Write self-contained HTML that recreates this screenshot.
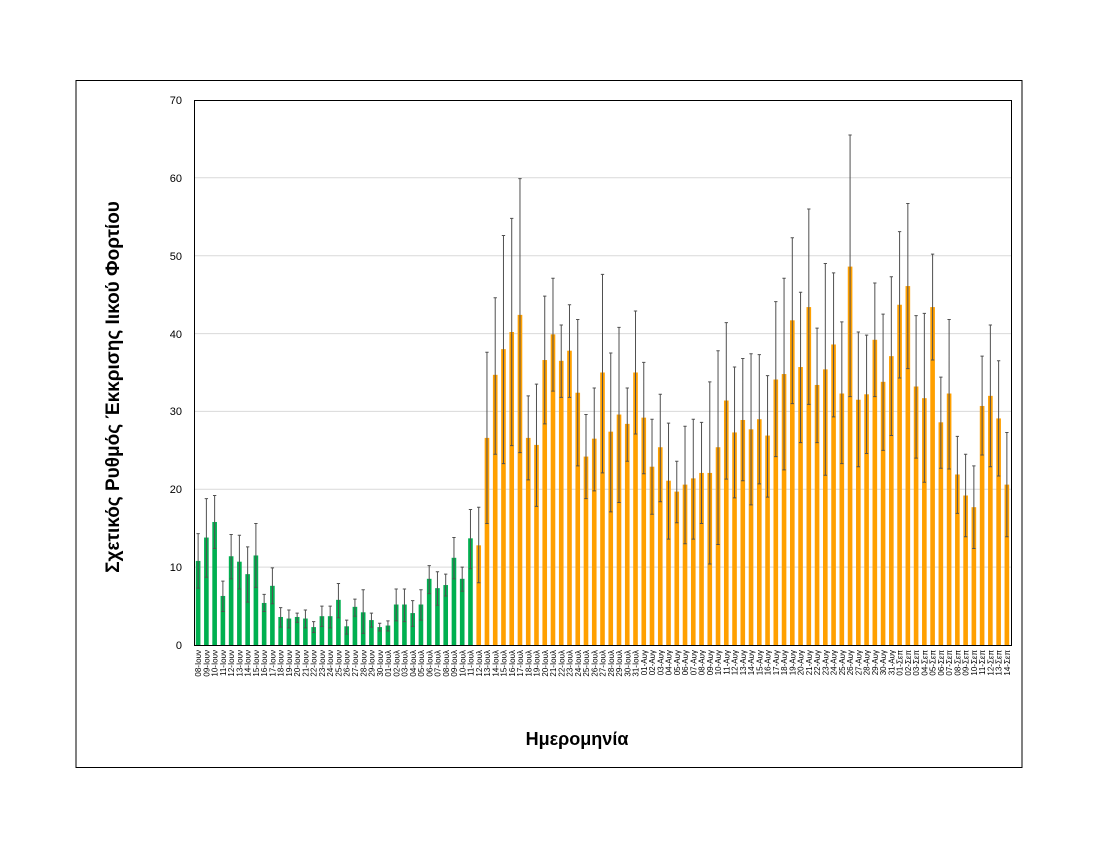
<!DOCTYPE html>
<html><head><meta charset="utf-8"><style>body{margin:0;background:#fff}svg{display:block;font-family:"Liberation Sans","DejaVu Sans",sans-serif}</style></head><body>
<svg width="1100" height="850" viewBox="0 0 1100 850" xmlns="http://www.w3.org/2000/svg">
<rect x="76" y="80.5" width="946" height="687" fill="#fff" stroke="#000" stroke-width="1"/>
<g stroke="#d9d9d9" stroke-width="1">
<line x1="194" x2="1011" y1="567.1" y2="567.1"/><line x1="194" x2="1011" y1="489.3" y2="489.3"/><line x1="194" x2="1011" y1="411.4" y2="411.4"/><line x1="194" x2="1011" y1="333.6" y2="333.6"/><line x1="194" x2="1011" y1="255.7" y2="255.7"/><line x1="194" x2="1011" y1="177.8" y2="177.8"/>
</g>
<g font-size="11" text-anchor="end" fill="#000">
<text x="182" y="649">0</text><text x="182" y="571">10</text><text x="182" y="493">20</text><text x="182" y="415">30</text><text x="182" y="338">40</text><text x="182" y="260">50</text><text x="182" y="182">60</text><text x="182" y="104">70</text>
</g>
<g transform="translate(194,645) scale(8.2525,-7.786)">
<g fill="#00b050">
<rect x="0.22" y="0" width=".56" height="10.8"/><rect x="1.22" y="0" width=".56" height="13.8"/><rect x="2.22" y="0" width=".56" height="15.8"/><rect x="3.22" y="0" width=".56" height="6.3"/><rect x="4.22" y="0" width=".56" height="11.4"/><rect x="5.22" y="0" width=".56" height="10.7"/><rect x="6.22" y="0" width=".56" height="9.1"/><rect x="7.22" y="0" width=".56" height="11.5"/><rect x="8.22" y="0" width=".56" height="5.4"/><rect x="9.22" y="0" width=".56" height="7.6"/><rect x="10.22" y="0" width=".56" height="3.6"/><rect x="11.22" y="0" width=".56" height="3.4"/><rect x="12.22" y="0" width=".56" height="3.6"/><rect x="13.22" y="0" width=".56" height="3.4"/><rect x="14.22" y="0" width=".56" height="2.3"/><rect x="15.22" y="0" width=".56" height="3.7"/><rect x="16.22" y="0" width=".56" height="3.7"/><rect x="17.22" y="0" width=".56" height="5.8"/><rect x="18.22" y="0" width=".56" height="2.4"/><rect x="19.22" y="0" width=".56" height="4.9"/><rect x="20.22" y="0" width=".56" height="4.2"/><rect x="21.22" y="0" width=".56" height="3.2"/><rect x="22.22" y="0" width=".56" height="2.3"/><rect x="23.22" y="0" width=".56" height="2.5"/><rect x="24.22" y="0" width=".56" height="5.2"/><rect x="25.22" y="0" width=".56" height="5.2"/><rect x="26.22" y="0" width=".56" height="4.1"/><rect x="27.22" y="0" width=".56" height="5.2"/><rect x="28.22" y="0" width=".56" height="8.5"/><rect x="29.22" y="0" width=".56" height="7.3"/><rect x="30.22" y="0" width=".56" height="7.7"/><rect x="31.22" y="0" width=".56" height="11.2"/><rect x="32.22" y="0" width=".56" height="8.5"/><rect x="33.22" y="0" width=".56" height="13.7"/>
</g>
<g fill="#ffa000">
<rect x="34.22" y="0" width=".56" height="12.8"/><rect x="35.22" y="0" width=".56" height="26.6"/><rect x="36.22" y="0" width=".56" height="34.7"/><rect x="37.22" y="0" width=".56" height="38.0"/><rect x="38.22" y="0" width=".56" height="40.2"/><rect x="39.22" y="0" width=".56" height="42.4"/><rect x="40.22" y="0" width=".56" height="26.6"/><rect x="41.22" y="0" width=".56" height="25.7"/><rect x="42.22" y="0" width=".56" height="36.6"/><rect x="43.22" y="0" width=".56" height="39.9"/><rect x="44.22" y="0" width=".56" height="36.5"/><rect x="45.22" y="0" width=".56" height="37.8"/><rect x="46.22" y="0" width=".56" height="32.4"/><rect x="47.22" y="0" width=".56" height="24.2"/><rect x="48.22" y="0" width=".56" height="26.5"/><rect x="49.22" y="0" width=".56" height="35.0"/><rect x="50.22" y="0" width=".56" height="27.4"/><rect x="51.22" y="0" width=".56" height="29.6"/><rect x="52.22" y="0" width=".56" height="28.4"/><rect x="53.22" y="0" width=".56" height="35.0"/><rect x="54.22" y="0" width=".56" height="29.2"/><rect x="55.22" y="0" width=".56" height="22.9"/><rect x="56.22" y="0" width=".56" height="25.4"/><rect x="57.22" y="0" width=".56" height="21.1"/><rect x="58.22" y="0" width=".56" height="19.7"/><rect x="59.22" y="0" width=".56" height="20.6"/><rect x="60.22" y="0" width=".56" height="21.4"/><rect x="61.22" y="0" width=".56" height="22.1"/><rect x="62.22" y="0" width=".56" height="22.1"/><rect x="63.22" y="0" width=".56" height="25.4"/><rect x="64.22" y="0" width=".56" height="31.4"/><rect x="65.22" y="0" width=".56" height="27.3"/><rect x="66.22" y="0" width=".56" height="28.9"/><rect x="67.22" y="0" width=".56" height="27.7"/><rect x="68.22" y="0" width=".56" height="29.0"/><rect x="69.22" y="0" width=".56" height="26.9"/><rect x="70.22" y="0" width=".56" height="34.1"/><rect x="71.22" y="0" width=".56" height="34.8"/><rect x="72.22" y="0" width=".56" height="41.7"/><rect x="73.22" y="0" width=".56" height="35.7"/><rect x="74.22" y="0" width=".56" height="43.4"/><rect x="75.22" y="0" width=".56" height="33.4"/><rect x="76.22" y="0" width=".56" height="35.4"/><rect x="77.22" y="0" width=".56" height="38.6"/><rect x="78.22" y="0" width=".56" height="32.3"/><rect x="79.22" y="0" width=".56" height="48.6"/><rect x="80.22" y="0" width=".56" height="31.5"/><rect x="81.22" y="0" width=".56" height="32.2"/><rect x="82.22" y="0" width=".56" height="39.2"/><rect x="83.22" y="0" width=".56" height="33.8"/><rect x="84.22" y="0" width=".56" height="37.1"/><rect x="85.22" y="0" width=".56" height="43.7"/><rect x="86.22" y="0" width=".56" height="46.1"/><rect x="87.22" y="0" width=".56" height="33.2"/><rect x="88.22" y="0" width=".56" height="31.7"/><rect x="89.22" y="0" width=".56" height="43.4"/><rect x="90.22" y="0" width=".56" height="28.6"/><rect x="91.22" y="0" width=".56" height="32.3"/><rect x="92.22" y="0" width=".56" height="21.9"/><rect x="93.22" y="0" width=".56" height="19.2"/><rect x="94.22" y="0" width=".56" height="17.7"/><rect x="95.22" y="0" width=".56" height="30.7"/><rect x="96.22" y="0" width=".56" height="32.0"/><rect x="97.22" y="0" width=".56" height="29.1"/><rect x="98.22" y="0" width=".56" height="20.6"/>
</g>
<path fill="none" stroke="#505050" stroke-width="1" vector-effect="non-scaling-stroke" d="M.5 7.3V14.3M.3 7.3h.4M.3 14.3h.4M1.5 8.7V18.8M1.3 8.7h.4M1.3 18.8h.4M2.5 12.4V19.2M2.3 12.4h.4M2.3 19.2h.4M3.5 4.3V8.2M3.3 4.3h.4M3.3 8.2h.4M4.5 8.5V14.2M4.3 8.5h.4M4.3 14.2h.4M5.5 7.2V14.1M5.3 7.2h.4M5.3 14.1h.4M6.5 5.5V12.6M6.3 5.5h.4M6.3 12.6h.4M7.5 7.4V15.6M7.3 7.4h.4M7.3 15.6h.4M8.5 4.3V6.5M8.3 4.3h.4M8.3 6.5h.4M9.5 5.3V9.9M9.3 5.3h.4M9.3 9.9h.4M10.5 2.3V4.8M10.3 2.3h.4M10.3 4.8h.4M11.5 2.2V4.5M11.3 2.2h.4M11.3 4.5h.4M12.5 2.9V4.1M12.3 2.9h.4M12.3 4.1h.4M13.5 2.2V4.5M13.3 2.2h.4M13.3 4.5h.4M14.5 1.6V3M14.3 1.6h.4M14.3 3h.4M15.5 2.4V5M15.3 2.4h.4M15.3 5h.4M16.5 2.2V5M16.3 2.2h.4M16.3 5h.4M17.5 3.5V7.9M17.3 3.5h.4M17.3 7.9h.4M18.5 1.4V3.2M18.3 1.4h.4M18.3 3.2h.4M19.5 3.7V5.9M19.3 3.7h.4M19.3 5.9h.4M20.5 1.5V7.1M20.3 1.5h.4M20.3 7.1h.4M21.5 2.3V4.1M21.3 2.3h.4M21.3 4.1h.4M22.5 1.8V2.8M22.3 1.8h.4M22.3 2.8h.4M23.5 1.8V3.1M23.3 1.8h.4M23.3 3.1h.4M24.5 3.1V7.2M24.3 3.1h.4M24.3 7.2h.4M25.5 3V7.2M25.3 3h.4M25.3 7.2h.4M26.5 2.4V5.7M26.3 2.4h.4M26.3 5.7h.4M27.5 3.2V7.1M27.3 3.2h.4M27.3 7.1h.4M28.5 6.6V10.2M28.3 6.6h.4M28.3 10.2h.4M29.5 5.1V9.4M29.3 5.1h.4M29.3 9.4h.4M30.5 6.3V9.1M30.3 6.3h.4M30.3 9.1h.4M31.5 8.5V13.8M31.3 8.5h.4M31.3 13.8h.4M32.5 6.9V10M32.3 6.9h.4M32.3 10h.4M33.5 9.8V17.4M33.3 9.8h.4M33.3 17.4h.4
M34.5 8V17.7M34.3 8h.4M34.3 17.7h.4M35.5 15.6V37.6M35.3 15.6h.4M35.3 37.6h.4M36.5 24.5V44.6M36.3 24.5h.4M36.3 44.6h.4M37.5 23.3V52.6M37.3 23.3h.4M37.3 52.6h.4M38.5 25.6V54.8M38.3 25.6h.4M38.3 54.8h.4M39.5 24.7V59.9M39.3 24.7h.4M39.3 59.9h.4M40.5 21.2V32M40.3 21.2h.4M40.3 32h.4M41.5 17.8V33.5M41.3 17.8h.4M41.3 33.5h.4M42.5 28.4V44.8M42.3 28.4h.4M42.3 44.8h.4M43.5 32.6V47.1M43.3 32.6h.4M43.3 47.1h.4M44.5 31.8V41.1M44.3 31.8h.4M44.3 41.1h.4M45.5 31.8V43.7M45.3 31.8h.4M45.3 43.7h.4M46.5 23V41.8M46.3 23h.4M46.3 41.8h.4M47.5 18.8V29.6M47.3 18.8h.4M47.3 29.6h.4M48.5 19.8V33M48.3 19.8h.4M48.3 33h.4M49.5 22.1V47.6M49.3 22.1h.4M49.3 47.6h.4M50.5 17.1V37.5M50.3 17.1h.4M50.3 37.5h.4M51.5 18.3V40.8M51.3 18.3h.4M51.3 40.8h.4M52.5 23.6V33M52.3 23.6h.4M52.3 33h.4M53.5 27.1V42.9M53.3 27.1h.4M53.3 42.9h.4M54.5 22V36.3M54.3 22h.4M54.3 36.3h.4M55.5 16.8V29M55.3 16.8h.4M55.3 29h.4M56.5 18.4V32.2M56.3 18.4h.4M56.3 32.2h.4M57.5 13.6V28.5M57.3 13.6h.4M57.3 28.5h.4M58.5 15.7V23.6M58.3 15.7h.4M58.3 23.6h.4M59.5 13V28.1M59.3 13h.4M59.3 28.1h.4M60.5 13.6V29M60.3 13.6h.4M60.3 29h.4M61.5 15.6V28.6M61.3 15.6h.4M61.3 28.6h.4M62.5 10.4V33.8M62.3 10.4h.4M62.3 33.8h.4M63.5 12.9V37.8M63.3 12.9h.4M63.3 37.8h.4M64.5 21.3V41.4M64.3 21.3h.4M64.3 41.4h.4M65.5 18.9V35.7M65.3 18.9h.4M65.3 35.7h.4M66.5 21.1V36.8M66.3 21.1h.4M66.3 36.8h.4M67.5 18V37.4M67.3 18h.4M67.3 37.4h.4M68.5 20.7V37.3M68.3 20.7h.4M68.3 37.3h.4M69.5 19V34.6M69.3 19h.4M69.3 34.6h.4M70.5 24.2V44.1M70.3 24.2h.4M70.3 44.1h.4M71.5 22.5V47.1M71.3 22.5h.4M71.3 47.1h.4M72.5 31V52.3M72.3 31h.4M72.3 52.3h.4M73.5 26V45.3M73.3 26h.4M73.3 45.3h.4M74.5 30.9V56M74.3 30.9h.4M74.3 56h.4M75.5 26V40.7M75.3 26h.4M75.3 40.7h.4M76.5 21.8V49M76.3 21.8h.4M76.3 49h.4M77.5 29.3V47.8M77.3 29.3h.4M77.3 47.8h.4M78.5 23.3V41.5M78.3 23.3h.4M78.3 41.5h.4M79.5 31.9V65.5M79.3 31.9h.4M79.3 65.5h.4M80.5 22.9V40.2M80.3 22.9h.4M80.3 40.2h.4M81.5 24.6V39.8M81.3 24.6h.4M81.3 39.8h.4M82.5 31.9V46.5M82.3 31.9h.4M82.3 46.5h.4M83.5 25V42.5M83.3 25h.4M83.3 42.5h.4M84.5 26.9V47.3M84.3 26.9h.4M84.3 47.3h.4M85.5 34.3V53.1M85.3 34.3h.4M85.3 53.1h.4M86.5 35.5V56.7M86.3 35.5h.4M86.3 56.7h.4M87.5 24V42.3M87.3 24h.4M87.3 42.3h.4M88.5 20.9V42.6M88.3 20.9h.4M88.3 42.6h.4M89.5 36.6V50.2M89.3 36.6h.4M89.3 50.2h.4M90.5 22.7V34.4M90.3 22.7h.4M90.3 34.4h.4M91.5 22.6V41.8M91.3 22.6h.4M91.3 41.8h.4M92.5 16.9V26.8M92.3 16.9h.4M92.3 26.8h.4M93.5 13.9V24.5M93.3 13.9h.4M93.3 24.5h.4M94.5 12.4V23M94.3 12.4h.4M94.3 23h.4M95.5 24.4V37.1M95.3 24.4h.4M95.3 37.1h.4M96.5 22.9V41.1M96.3 22.9h.4M96.3 41.1h.4M97.5 21.7V36.5M97.3 21.7h.4M97.3 36.5h.4M98.5 13.9V27.3M98.3 13.9h.4M98.3 27.3h.4"/>
</g>
<rect x="194.5" y="100.5" width="817" height="545" fill="none" stroke="#000" stroke-width="1"/>
<g transform="translate(201.2,650) rotate(-90)" font-size="8" text-anchor="end" fill="#000">
<text x="0" y="0">08-Ιουν</text><text x="0" y="8.3">09-Ιουν</text><text x="0" y="16.5">10-Ιουν</text><text x="0" y="24.8">11-Ιουν</text><text x="0" y="33">12-Ιουν</text><text x="0" y="41.3">13-Ιουν</text><text x="0" y="49.5">14-Ιουν</text><text x="0" y="57.8">15-Ιουν</text><text x="0" y="66">16-Ιουν</text><text x="0" y="74.3">17-Ιουν</text><text x="0" y="82.5">18-Ιουν</text><text x="0" y="90.8">19-Ιουν</text><text x="0" y="99">20-Ιουν</text><text x="0" y="107.3">21-Ιουν</text><text x="0" y="115.5">22-Ιουν</text><text x="0" y="123.8">23-Ιουν</text><text x="0" y="132">24-Ιουν</text><text x="0" y="140.3">25-Ιουν</text><text x="0" y="148.5">26-Ιουν</text><text x="0" y="156.8">27-Ιουν</text><text x="0" y="165.1">28-Ιουν</text><text x="0" y="173.3">29-Ιουν</text><text x="0" y="181.6">30-Ιουν</text><text x="0" y="189.8">01-Ιουλ</text><text x="0" y="198.1">02-Ιουλ</text><text x="0" y="206.3">03-Ιουλ</text><text x="0" y="214.6">04-Ιουλ</text><text x="0" y="222.8">05-Ιουλ</text><text x="0" y="231.1">06-Ιουλ</text><text x="0" y="239.3">07-Ιουλ</text><text x="0" y="247.6">08-Ιουλ</text><text x="0" y="255.8">09-Ιουλ</text><text x="0" y="264.1">10-Ιουλ</text><text x="0" y="272.3">11-Ιουλ</text><text x="0" y="280.6">12-Ιουλ</text><text x="0" y="288.8">13-Ιουλ</text><text x="0" y="297.1">14-Ιουλ</text><text x="0" y="305.3">15-Ιουλ</text><text x="0" y="313.6">16-Ιουλ</text><text x="0" y="321.8">17-Ιουλ</text><text x="0" y="330.1">18-Ιουλ</text><text x="0" y="338.4">19-Ιουλ</text><text x="0" y="346.6">20-Ιουλ</text><text x="0" y="354.9">21-Ιουλ</text><text x="0" y="363.1">22-Ιουλ</text><text x="0" y="371.4">23-Ιουλ</text><text x="0" y="379.6">24-Ιουλ</text><text x="0" y="387.9">25-Ιουλ</text><text x="0" y="396.1">26-Ιουλ</text><text x="0" y="404.4">27-Ιουλ</text><text x="0" y="412.6">28-Ιουλ</text><text x="0" y="420.9">29-Ιουλ</text><text x="0" y="429.1">30-Ιουλ</text><text x="0" y="437.4">31-Ιουλ</text><text x="0" y="445.6">01-Αυγ</text><text x="0" y="453.9">02-Αυγ</text><text x="0" y="462.1">03-Αυγ</text><text x="0" y="470.4">04-Αυγ</text><text x="0" y="478.6">05-Αυγ</text><text x="0" y="486.9">06-Αυγ</text><text x="0" y="495.2">07-Αυγ</text><text x="0" y="503.4">08-Αυγ</text><text x="0" y="511.7">09-Αυγ</text><text x="0" y="519.9">10-Αυγ</text><text x="0" y="528.2">11-Αυγ</text><text x="0" y="536.4">12-Αυγ</text><text x="0" y="544.7">13-Αυγ</text><text x="0" y="552.9">14-Αυγ</text><text x="0" y="561.2">15-Αυγ</text><text x="0" y="569.4">16-Αυγ</text><text x="0" y="577.7">17-Αυγ</text><text x="0" y="585.9">18-Αυγ</text><text x="0" y="594.2">19-Αυγ</text><text x="0" y="602.4">20-Αυγ</text><text x="0" y="610.7">21-Αυγ</text><text x="0" y="618.9">22-Αυγ</text><text x="0" y="627.2">23-Αυγ</text><text x="0" y="635.4">24-Αυγ</text><text x="0" y="643.7">25-Αυγ</text><text x="0" y="652">26-Αυγ</text><text x="0" y="660.2">27-Αυγ</text><text x="0" y="668.5">28-Αυγ</text><text x="0" y="676.7">29-Αυγ</text><text x="0" y="685">30-Αυγ</text><text x="0" y="693.2">31-Αυγ</text><text x="0" y="701.5">01-Σεπ</text><text x="0" y="709.7">02-Σεπ</text><text x="0" y="718">03-Σεπ</text><text x="0" y="726.2">04-Σεπ</text><text x="0" y="734.5">05-Σεπ</text><text x="0" y="742.7">06-Σεπ</text><text x="0" y="751">07-Σεπ</text><text x="0" y="759.2">08-Σεπ</text><text x="0" y="767.5">09-Σεπ</text><text x="0" y="775.7">10-Σεπ</text><text x="0" y="784">11-Σεπ</text><text x="0" y="792.2">12-Σεπ</text><text x="0" y="800.5">13-Σεπ</text><text x="0" y="808.7">14-Σεπ</text>
</g>
<text x="577" y="745" font-size="18" font-weight="bold" text-anchor="middle">Ημερομηνία</text>
<text transform="translate(119,387) rotate(-90)" font-size="19" font-weight="bold" text-anchor="middle">Σχετικός Ρυθμός Έκκρισης Ιικού Φορτίου</text>
</svg>
</body></html>
